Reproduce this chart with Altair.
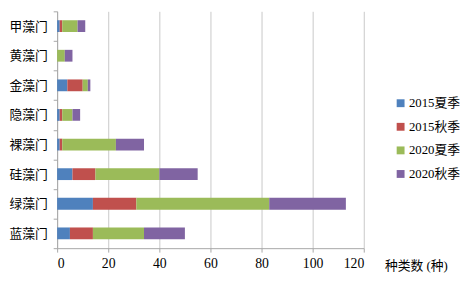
import altair as alt
import pandas as pd

categories = ["甲藻门", "黄藻门", "金藻门", "隐藻门", "裸藻门", "硅藻门", "绿藻门", "蓝藻门"]
series = ["2015夏季", "2015秋季", "2020夏季", "2020秋季"]
values = {
    "2015夏季": [1, 0, 4, 1, 1, 6, 14, 5],
    "2015秋季": [1, 0, 6, 1, 1, 9, 17, 9],
    "2020夏季": [6, 3, 2, 4, 21, 25, 52, 20],
    "2020秋季": [3, 3, 1, 3, 11, 15, 30, 16],
}
colors = ["#4f81bd", "#c0504d", "#9bbb59", "#8064a2"]
x_ticks = [0, 20, 40, 60, 80, 100, 120]

rows = []
for si, s in enumerate(series):
    for c, v in zip(categories, values[s]):
        rows.append({"门": c, "季节": s, "种类数": v, "ord": si})
df = pd.DataFrame(rows)

font = "'Liberation Serif', 'Noto Sans CJK SC', serif"

chart = alt.Chart(df).mark_bar(size=12).encode(
    y=alt.Y("门:N", sort=categories,
            scale=alt.Scale(paddingInner=0, paddingOuter=0),
            axis=alt.Axis(title=None, tickBand="extent", grid=False,
                          domainColor="#a6a6a6", tickColor="#a6a6a6", tickSize=4,
                          labelFont=font, labelFontSize=13, labelColor="#000000",
                          labelPadding=6)),
    x=alt.X("种类数:Q", stack="zero",
            scale=alt.Scale(domain=[0, 120], nice=False),
            axis=alt.Axis(values=x_ticks, title="种类数 (种)", grid=True,
                          gridColor="#c8c8c8", domainColor="#a6a6a6",
                          tickColor="#a6a6a6", tickSize=4,
                          labelFont=font, labelFontSize=14, labelColor="#000000",
                          labelPadding=5,
                          titleFont=font, titleFontSize=13, titleFontWeight="normal",
                          titleColor="#000000", titleX=333, titleY=18,
                          titleAlign="left", titleBaseline="middle")),
    color=alt.Color("季节:N", sort=series,
                    scale=alt.Scale(domain=series, range=colors),
                    legend=alt.Legend(title=None, orient="none", legendX=343, legendY=87,
                                      symbolType="square", symbolSize=64,
                                      symbolStrokeWidth=0, labelFont=font,
                                      labelFontSize=13, labelColor="#000000",
                                      rowPadding=10, labelOffset=2)),
    order=alt.Order("ord:Q"),
).properties(
    width=312, height=241,
    autosize=alt.AutoSizeParams(type="none"),
    padding={"left": 50, "top": 1, "right": 102, "bottom": 30},
).configure_view(stroke=None)

chart.save("out.html", embed_options={"renderer": "svg", "actions": False})
